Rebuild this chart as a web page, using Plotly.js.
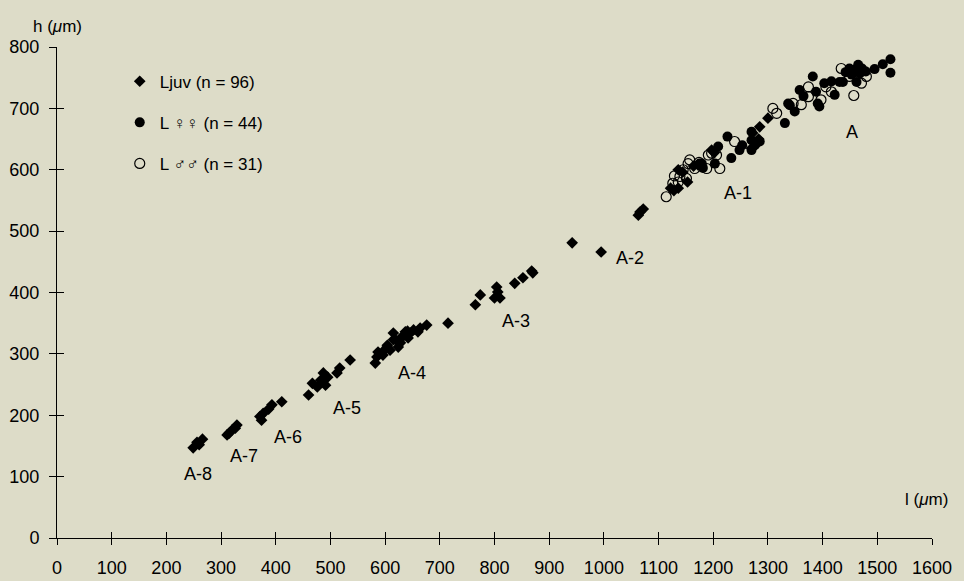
<!DOCTYPE html>
<html><head><meta charset="utf-8">
<script src="https://cdn.plot.ly/plotly-3.0.1.min.js"></script>
<style>html,body{margin:0;padding:0;background:#dddcc8;}#chart{width:964px;height:581px;}</style>
</head><body><div id="chart"></div>
<script>
// Juveniles (Ljuv): body length l (µm) and height h (µm)
var juvL = [249,256,266,260, 311,315,320,326,329, 371,374,377,387,393,411,
  460,467,476,482,487,495,491,512,517,536,
  582,585,587,595,596,604,604,609,615,615,619,624,628,631,633,637,641,642,646,652,660,664,676,715,
  765,774,800,804,806,810,837,852,868,870,
  942,995,1063,1066,1072,
  1122,1128,1136,1136,1144,1153,1164,1172,1197,1202,1270,1272,1277,1283,1285,1300,1279];
var juvH = [147,156,161,152, 168,171,176,179,184, 198,192,203,210,217,222,
  233,252,246,257,269,262,249,269,277,290,
  285,295,303,303,298,314,311,306,323,334,323,311,318,328,329,336,337,326,334,339,336,342,347,350,
  380,396,391,409,401,391,415,424,435,432,
  481,466,526,531,536,
  570,566,570,600,596,580,606,608,632,628,635,660,640,650,670,684,645];
// Females (L ♀♀)
var femL = [1175,1181,1179,1203,1209,1226,1233,1248,1270,1270,1285,1270,1276,1253,
  1331,1340,1349,1337,1358,1382,1388,1391,1394,1403,1416,1422,1431,1437,1449,1458,1465,1468,1462,1495,1510,1524,1524,1365,1442,1453,1472,1479];
var femH = [610,603,610,610,638,654,619,632,662,648,646,632,640,640,
  676,705,695,708,730,752,727,708,703,741,744,722,743,743,765,763,771,757,743,764,772,780,758,720,759,755,765,760];
// Males (L ♂♂)
var maleL = [1114,1126,1136,1139,1145,1151,1154,1157,1166,1188,1191,1197,1206,1212,1239,1129,1174,
  1309,1316,1346,1361,1374,1374,1397,1406,1416,1457,1434,1449,1471,1480];
var maleH = [556,578,580,589,600,586,610,616,602,602,624,627,624,602,646,590,612,
  700,692,708,706,735,719,714,735,727,721,765,752,741,752];
// Instar labels
var instarLabels = ['A-8','A-7','A-6','A-5','A-4','A-3','A-2','A-1','A'];
var labelL = [258,342,422,531,650,839,1047,1245,1454];
var labelH = [104,134,165,212,269,354,456,562,662];
var xTicks = [0,100,200,300,400,500,600,700,800,900,1000,1100,1200,1300,1400,1500,1600];
var yTicks = [0,100,200,300,400,500,600,700,800];

var FONT = 'Liberation Sans, Arial, sans-serif';
var INK = '#000';
var BG = '#dddcc8';
var traces = [
  {x: juvL, y: juvH, mode:'markers', type:'scatter', name:'Ljuv (n = 96)', legendgroup:'a',
   marker:{symbol:'diamond', size:9, color:INK}},
  {x: femL, y: femH, mode:'markers', type:'scatter', name:'L ♀♀ (n = 44)', legendgroup:'b',
   marker:{symbol:'circle', size:10, color:INK}},
  {x: maleL, y: maleH, mode:'markers', type:'scatter', name:'L ♂♂ (n = 31)', legendgroup:'c',
   marker:{symbol:'circle-open', size:10, color:INK, line:{width:1.2, color:INK}}},
  {x:[null], y:[null], xaxis:'x2', yaxis:'y2', showlegend:false, hoverinfo:'skip', mode:'markers'}
];
var annotations = instarLabels.map(function(t,i){
  return {x: labelL[i], y: labelH[i], xref:'x', yref:'y', text:t, showarrow:false,
          font:{family:FONT, size:18, color:INK}};
});
annotations.push({xref:'paper', yref:'paper', x:0, y:1.065, xanchor:'center', text:'h (<i>μ</i>m)', showarrow:false,
  font:{family:FONT, size:17, color:INK}});
annotations.push({xref:'paper', yref:'paper', x:1.02, y:0.054, xanchor:'right', text:'l (<i>μ</i>m)', showarrow:false,
  font:{family:FONT, size:17, color:INK}});

var layout = {
  width:964, height:581,
  margin:{l:56.5, r:31.5, t:47, b:43, pad:0},
  paper_bgcolor:BG, plot_bgcolor:BG,
  font:{family:FONT, color:INK, size:18},
  showlegend:true,
  legend:{x:0.0717, y:0.966, xanchor:'left', yanchor:'top', bgcolor:'rgba(0,0,0,0)',
          font:{family:FONT, size:17, color:INK}, tracegroupgap:16, traceorder:'grouped'},
  xaxis:{range:[0,1600], tickvals:xTicks, ticks:'outside', ticklen:6, tickcolor:INK,
         showline:true, linecolor:INK, linewidth:1, showgrid:false, zeroline:false,
         tickfont:{family:FONT, size:18, color:INK}, ticklabelstandoff:7, anchor:'y'},
  yaxis:{range:[0,800], tickvals:yTicks, ticks:'outside', ticklen:7, tickcolor:INK,
         showline:true, linecolor:INK, linewidth:1, showgrid:false, zeroline:false,
         tickfont:{family:FONT, size:18, color:INK}, ticklabelstandoff:6, anchor:'x'},
  xaxis2:{overlaying:'x', matches:'x', anchor:'y', side:'bottom', range:[0,1600], tickvals:xTicks,
          ticks:'inside', ticklen:6, tickcolor:INK, showticklabels:false, showline:false, showgrid:false, zeroline:false},
  yaxis2:{overlaying:'y', matches:'y', anchor:'x', side:'left', range:[0,800], tickvals:yTicks,
          ticks:'inside', ticklen:7, tickcolor:INK, showticklabels:false, showline:false, showgrid:false, zeroline:false},
  annotations: annotations
};
Plotly.newPlot('chart', traces, layout, {displayModeBar:false, staticPlot:true});
</script></body></html>
